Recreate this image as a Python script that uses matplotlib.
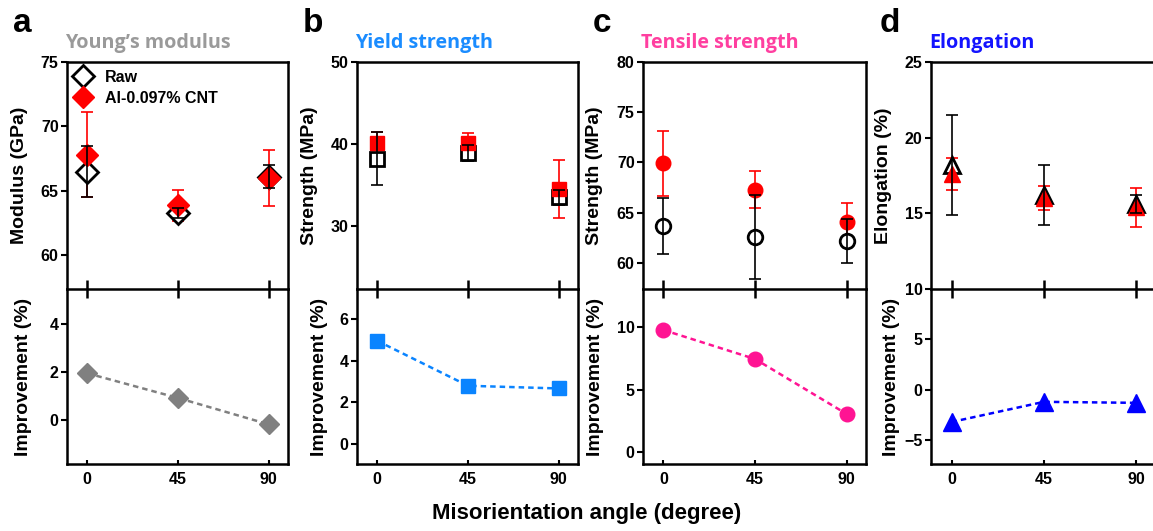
import matplotlib
matplotlib.use("Agg")
import matplotlib.pyplot as plt
import numpy as np

# ---------------- data ----------------
angles = [0, 45, 90]
xtick_labels = ["0", "45", "90"]

mod_raw = [66.5, 63.3, 66.1]
mod_raw_err = [2.0, 0.4, 0.9]
mod_cnt = [67.8, 63.9, 66.0]
mod_cnt_err = [3.3, 1.2, 2.2]
mod_imp = [1.95, 0.92, -0.18]

ys_raw = [38.2, 38.9, 33.5]
ys_raw_err = [3.2, 1.0, 0.9]
ys_cnt = [40.1, 40.1, 34.5]
ys_cnt_err = [1.4, 1.2, 3.5]
ys_imp = [4.96, 2.8, 2.67]

ts_raw = [63.7, 62.6, 62.2]
ts_raw_err = [2.8, 4.2, 2.2]
ts_cnt = [69.9, 67.3, 64.1]
ts_cnt_err = [3.2, 1.8, 1.9]
ts_imp = [9.76, 7.44, 3.04]

el_raw = [18.2, 16.2, 15.6]
el_raw_err = [3.3, 2.0, 0.6]
el_cnt = [17.6, 16.0, 15.4]
el_cnt_err = [1.05, 0.8, 1.3]
el_imp = [-3.2, -1.2, -1.3]

legend_labels = ["Raw", "Al-0.097% CNT"]
titles = ["Young\u2019s modulus", "Yield strength", "Tensile strength", "Elongation"]
letters = ["a", "b", "c", "d"]
top_ylabels = ["Modulus (GPa)", "Strength (MPa)", "Strength (MPa)", "Elongation (%)"]
bottom_ylabel = "Improvement (%)"
xlabel = "Misorientation angle (degree)"

# ---------------- style ----------------
W, H = 1153, 531
plt.rcParams["font.family"] = ["Liberation Sans", "DejaVu Sans"]
plt.rcParams["font.weight"] = "bold"
fig = plt.figure(figsize=(W / 100, H / 100), dpi=100)

TICKFS = 11.5
LABELFS = 14
RED = "#ff0000"

panels = [
    dict(x0=67, x1=288, raw=mod_raw, rawe=mod_raw_err, cnt=mod_cnt, cnte=mod_cnt_err, imp=mod_imp,
         marker="D", ms=11, ims=10.5, col="#808080", tcol="#9a9a9a",
         ylim=(57.4, 75), yt=[60, 65, 70, 75], ylim2=(-1.83, 5.46), yt2=[0, 2, 4],
         lab1x=20, lab2x=24),
    dict(x0=357, x1=578, raw=ys_raw, rawe=ys_raw_err, cnt=ys_cnt, cnte=ys_cnt_err, imp=ys_imp,
         marker="s", ms=9.5, ims=9.5, col="#0a84ff", tcol="#1a8cff",
         ylim=(22.3, 50), yt=[30, 40, 50], ylim2=(-0.96, 7.45), yt2=[0, 2, 4, 6],
         lab1x=310, lab2x=319),
    dict(x0=643, x1=866, raw=ts_raw, rawe=ts_raw_err, cnt=ts_cnt, cnte=ts_cnt_err, imp=ts_imp,
         marker="o", ms=10.5, ims=10.5, col="#ff1493", tcol="#ff3fa0",
         ylim=(57.4, 80), yt=[60, 65, 70, 75, 80], ylim2=(-0.96, 13.04), yt2=[0, 5, 10],
         lab1x=595, lab2x=596),
    dict(x0=931, x1=1156, raw=el_raw, rawe=el_raw_err, cnt=el_cnt, cnte=el_cnt_err, imp=el_imp,
         marker="^", ms=12, ims=12.5, col="#0000ff", tcol="#1414ff",
         ylim=(10, 25), yt=[10, 15, 20, 25], ylim2=(-7.37, 10), yt2=[-5, 0, 5],
         lab1x=884, lab2x=891),
]

ytop, ymid, ybot = 62, 289, 464
XLIM = (-10, 99.5)


def fr(x0, x1, y0, y1):
    return [x0 / W, 1 - y1 / H, (x1 - x0) / W, (y1 - y0) / H]


for i, p in enumerate(panels):
    ax = fig.add_axes(fr(p["x0"], p["x1"], ytop, ymid))
    ax2 = fig.add_axes(fr(p["x0"], p["x1"], ymid, ybot))

    # --- top panel ---
    ax.errorbar(angles, p["cnt"], yerr=p["cnte"], fmt="none", ecolor=RED,
                elinewidth=1.2, capsize=4, capthick=1.2, zorder=2)
    h_raw, = ax.plot(angles, p["raw"], linestyle="none", marker=p["marker"], ms=p["ms"],
                     mfc="white", mec="black", mew=2.0, zorder=3, label=legend_labels[0])
    h_cnt, = ax.plot(angles, p["cnt"], linestyle="none", marker=p["marker"], ms=p["ms"],
                     mfc=RED, mec=RED, mew=1.0, zorder=4, label=legend_labels[1])
    ax.errorbar(angles, p["raw"], yerr=p["rawe"], fmt="none", ecolor="black",
                elinewidth=1.2, capsize=4, capthick=1.2, zorder=5)
    ax.set_xlim(*XLIM)
    ax.set_ylim(*p["ylim"])
    ax.set_yticks(p["yt"])
    ax.set_xticks(angles)
    ax.tick_params(axis="x", direction="inout", length=13, width=1.8, labelbottom=False)
    ax.tick_params(axis="y", direction="out", length=4, width=1.5, labelsize=TICKFS, pad=2)
    for s in ax.spines.values():
        s.set_linewidth(1.8)
    ax.set_ylabel(top_ylabels[i], fontsize=LABELFS, fontweight="bold", va="center")
    ax.yaxis.set_label_coords((p["lab1x"] - p["x0"]) / (p["x1"] - p["x0"]), 0.5)

    if i == 0:
        ax.legend(handles=[h_raw, h_cnt], loc="upper left", frameon=False,
                  prop=dict(size=TICKFS, weight="bold"), handlelength=1.0,
                  handletextpad=0.9, borderaxespad=0.2, labelspacing=0.35,
                  borderpad=0.3)

    # --- bottom panel ---
    ax2.plot(angles, p["imp"], linestyle=(0, (2.2, 1.6)), lw=1.8, color=p["col"],
             marker=p["marker"], ms=p["ims"], mfc=p["col"], mec=p["col"], zorder=3)
    ax2.set_xlim(*XLIM)
    ax2.set_ylim(*p["ylim2"])
    ax2.set_yticks(p["yt2"])
    ax2.set_xticks(angles)
    ax2.set_xticklabels(xtick_labels)
    ax2.tick_params(axis="x", direction="in", length=3, width=1.5, labelsize=TICKFS, pad=6)
    ax2.tick_params(axis="y", direction="out", length=4, width=1.5, labelsize=TICKFS, pad=2)
    for s in ax2.spines.values():
        s.set_linewidth(1.8)
    ax2.spines["top"].set_visible(False)
    ax2.set_ylabel(bottom_ylabel, fontsize=LABELFS, fontweight="bold", va="center")
    ax2.yaxis.set_label_coords((p["lab2x"] - p["x0"]) / (p["x1"] - p["x0"]), 0.5)
    ax.set_zorder(2)

    # titles
    fig.text((p["x0"] - 2) / W, 1 - 48 / H, titles[i], color=p["tcol"], fontsize=14.2,
             fontweight="bold", family=["Open Sans", "DejaVu Sans"], ha="left", va="baseline")

letter_x = [13, 303, 593, 880]
for lx, lt in zip(letter_x, letters):
    fig.text(lx / W, 1 - 32 / H, lt, fontsize=24, fontweight="bold", ha="left", va="baseline")

fig.text(587 / W, 1 - 514 / H, xlabel, fontsize=16, fontweight="bold", ha="center", va="center")

fig.savefig("out.png", dpi=100)
